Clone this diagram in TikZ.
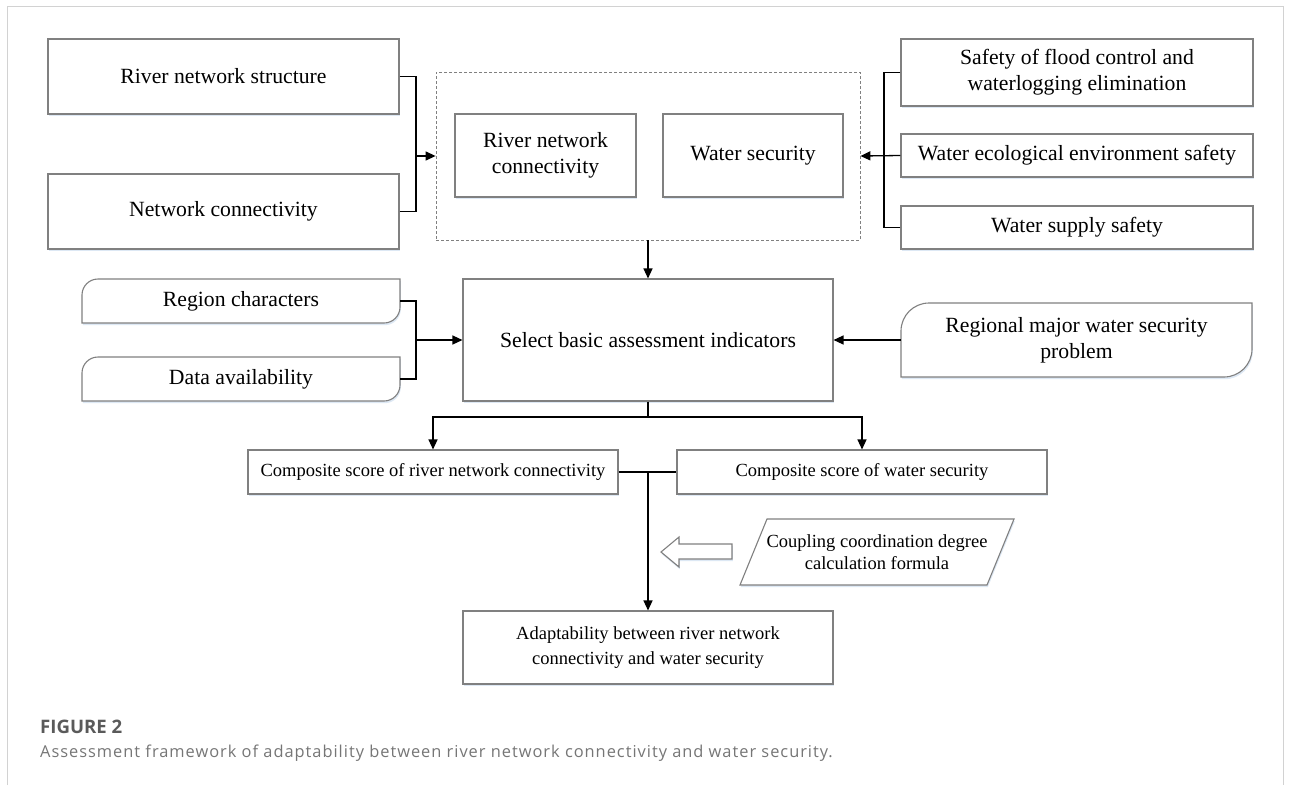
\documentclass[tikz,border=0pt]{standalone}
\usepackage{fontspec}
\setmainfont{Liberation Serif}
\newfontfamily\capfont{Open Sans}
\newfontfamily\captxtfont[LetterSpace=6]{Open Sans}
\usetikzlibrary{arrows.meta,shadows,calc}
\definecolor{boxgray}{HTML}{808080}
\definecolor{shadowblue}{HTML}{DDE8F4}
\definecolor{framegray}{HTML}{D2D2D2}
\definecolor{capdark}{HTML}{5A5A5A}
\definecolor{capgray}{HTML}{767676}
\tikzset{
  bx/.style={draw=boxgray, line width=1.1pt, fill=white, inner sep=0pt, align=center,
    drop shadow={shadow xshift=0.8pt, shadow yshift=-2.2pt, fill=shadowblue, opacity=1}},
  bigtxt/.style={font=\fontsize{21.7}{26}\selectfont},
  smltxt/.style={font=\fontsize{18.5}{24}\selectfont},
  txtonly/.style={inner sep=0pt, align=center},
  conn/.style={line width=1.3pt, black},
  arr/.style={conn, -{Triangle[length=10pt,width=9pt]}},
}
\begin{document}
\begin{tikzpicture}[x=1pt, y=-1pt]
\useasboundingbox (0,0) rectangle (1293,785);
\fill[white] (0,0) rectangle (1293,785);
% outer frame
\draw[framegray, line width=1pt] (7,785) -- (7,6) -- (1283,6) -- (1283,785);

% top-left boxes
\node[bx, bigtxt, minimum width=351pt, minimum height=75pt] (rns) at (223.5,76.5) {River network structure};
\node[bx, bigtxt, minimum width=351pt, minimum height=75pt] (nc) at (223.5,211.5) {Network connectivity};

% dashed group
\node[draw=boxgray, dash pattern=on 3pt off 2pt, line width=0.8pt, minimum width=424pt, minimum height=168pt, inner sep=0pt] (grp) at (648,156) {};
\node[bx, bigtxt, minimum width=181pt, minimum height=83pt] (rnc) at (545.5,155.5) {River network\\connectivity};
\node[bx, bigtxt, minimum width=180pt, minimum height=83pt] (ws) at (753,155.5) {Water security};

% right boxes
\node[bx, bigtxt, minimum width=352pt, minimum height=67pt] (sfc) at (1077,72.5) {Safety of flood control and\\waterlogging elimination};
\node[bx, bigtxt, minimum width=352pt, minimum height=43pt] (wee) at (1077,155.5) {Water ecological environment safety};
\node[bx, bigtxt, minimum width=352pt, minimum height=43pt] (wss) at (1077,227.5) {Water supply safety};

% select box
\node[bx, bigtxt, minimum width=370pt, minimum height=122pt] (sel) at (648,340) {Select basic assessment indicators};

% rounded-corner boxes
\draw[bx] (82,295) -- (82,323) -- (384,323) .. controls (392.83,323) and (400,315.83) .. (400,307) -- (400,279) -- (98,279) .. controls (89.17,279) and (82,286.17) .. (82,295) -- cycle;
\node[txtonly, bigtxt, minimum width=318pt, minimum height=44pt] (rc) at (241,301) {Region characters};
\draw[bx] (82,373) -- (82,401) -- (384,401) .. controls (392.83,401) and (400,393.83) .. (400,385) -- (400,357) -- (98,357) .. controls (89.17,357) and (82,364.17) .. (82,373) -- cycle;
\node[txtonly, bigtxt, minimum width=318pt, minimum height=44pt] (da) at (241,379) {Data availability};
\draw[bx] (901,331) -- (901,377) -- (1224,377) .. controls (1239.46,377) and (1252,364.46) .. (1252,349) -- (1252,303) -- (929,303) .. controls (913.54,303) and (901,315.54) .. (901,331) -- cycle;
\node[txtonly, bigtxt, minimum width=351pt, minimum height=74pt] (rm) at (1076.5,340) {Regional major water security\\problem};

% composite boxes
\node[bx, smltxt, minimum width=370pt, minimum height=44pt] (csr) at (433,472) {Composite score of river network connectivity};
\node[bx, smltxt, minimum width=370pt, minimum height=44pt] (csw) at (862,472) {Composite score of water security};

% coupling parallelogram
\draw[bx] (767,519) -- (1014,519) -- (987,585) -- (740,585) -- cycle;
\node[txtonly, font=\fontsize{18.5}{22.5}\selectfont] (ccf) at (877,552) {Coupling coordination degree\\calculation formula};

% hollow arrow
\draw[bx] (732,544) -- (679,544) -- (679,537) -- (661,552) -- (679,567) -- (679,559) -- (732,559) -- cycle;

% adaptability
\node[bx, font=\fontsize{18.5}{25}\selectfont, minimum width=370pt, minimum height=73pt] (ad) at (648,647.5) {Adaptability between river network\\connectivity and water security};

% connectors
\coordinate (jl) at (416,156);
\draw[conn] (rns.east) -| (jl);
\draw[conn] (nc.east) -| (jl);
\draw[arr] (jl) -- (grp.west);

\coordinate (jr) at (884,156);
\draw[conn] (sfc.west) -| (jr);
\draw[conn] (wss.west) -| (jr);
\draw[arr] (wee.west) -- (grp.east);

\draw[arr] (grp.south) -- (sel.north);

\coordinate (jl2) at (416,340);
\draw[conn] (rc.east) -| (jl2);
\draw[conn] (da.east) -| (jl2);
\draw[arr] (jl2) -- (sel.west);
\draw[arr] (rm.west) -- (sel.east);

\coordinate (js) at (648,417);
\draw[conn] (sel.south) -- (js);
\draw[arr] (js) -| (csr.north);
\draw[arr] (js) -| (csw.north);

\draw[conn] (csr.east) -- (csw.west);
\coordinate (jm) at (648,472);
\draw[arr] (jm) -- (ad.north);

% caption
\node[anchor=base west, inner sep=0pt, font=\capfont\bfseries\fontsize{18.6}{22}\selectfont, text=capdark] (fig) at (40,733) {FIGURE 2};
\node[anchor=base west, inner sep=0pt, font=\captxtfont\fontsize{16.4}{19}\selectfont, text=capgray] (cap) at (40,757) {Assessment framework of adaptability between river network connectivity and water security.};
\end{tikzpicture}
\end{document}
